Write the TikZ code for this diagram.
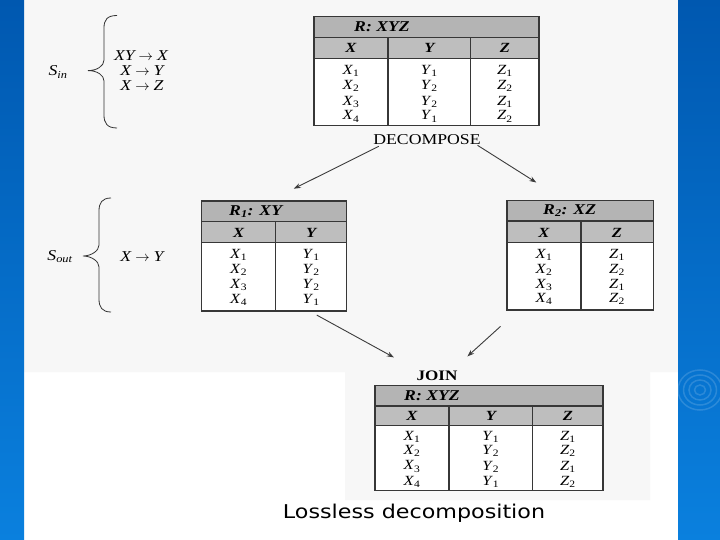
\documentclass[tikz,border=0pt]{standalone}
\usepackage{fontspec}
\setmainfont{Liberation Serif}[FakeStretch=1.18]
\newfontfamily\lsans{DejaVu Sans}[FakeStretch=1.17]
\usetikzlibrary{arrows.meta}
\definecolor{bartop}{RGB}{0,88,176}
\definecolor{barbot}{RGB}{10,128,222}
\definecolor{hdrgray}{RGB}{190,190,190}
\definecolor{ttlgray}{RGB}{180,180,180}
\definecolor{lnclr}{RGB}{55,55,55}
\definecolor{scan}{RGB}{247,247,247}
\definecolor{arrclr}{RGB}{60,60,60}
\newcommand\vv[2]{\textit{#1}\textsubscript{#2}}
\newcommand\fdto{\hspace{4pt}$\rightarrow$\hspace{4pt}}
\begin{document}
\begin{tikzpicture}[x=1pt,y=-1pt,
  tbl/.style={draw=lnclr,line width=1.1pt},
  cell/.style={font=\fontsize{14}{14}\selectfont,inner sep=0pt},
  hdr/.style={font=\fontsize{14}{14}\selectfont\bfseries\itshape,inner sep=0pt},
  ttl/.style={font=\fontsize{15}{15}\selectfont\bfseries\itshape,inner sep=0pt,anchor=west},
  fd/.style={font=\fontsize{15}{15}\selectfont\itshape,inner sep=0pt},
  lbl/.style={font=\fontsize{15}{15}\selectfont,inner sep=0pt},
  arr/.style={draw=arrclr,line width=0.9pt,-{Stealth[length=7pt,width=5pt]}},
  brc/.style={draw=black!80,line width=0.8pt}]
\useasboundingbox (0,0) rectangle (720,540);
\fill[white] (0,0) rectangle (720,540);
% scanned area
\fill[scan] (24,0) -- (678,0) -- (678,372) -- (650,372) -- (650,500) -- (345,500) -- (345,372) -- (24,372) -- cycle;
% blue bars
\shade[top color=bartop,bottom color=barbot] (0,0) rectangle (24,540);
\shade[top color=bartop,bottom color=barbot] (678,0) rectangle (720,540);
\begin{scope}
\clip (678,0) rectangle (720,540);
\foreach \r in {5,10,15,20}
  \draw[white,opacity=0.15,line width=1.5pt] (700,390) ellipse ({\r*1.1} and \r);
\end{scope}

% ---------- top table R: XYZ ----------
\fill[ttlgray] (314,16.5) rectangle (539,37.2);
\fill[hdrgray] (314,37.2) rectangle (539,58.5);
\fill[white] (314,58.5) rectangle (539,125.7);
\draw[tbl] (314,16.5) rectangle (539,125.7);
\draw[tbl] (314,37.2) -- (539,37.2);
\draw[tbl] (314,58.5) -- (539,58.5);
\draw[tbl] (388,37.2) -- (388,125.7);
\draw[tbl] (470.6,37.2) -- (470.6,125.7);
\node[ttl] (t0t) at (354,27) {R: XYZ};
\node[hdr] (t0hx) at (351,47.8) {X};
\node[hdr] (t0hy) at (429.3,47.8) {Y};
\node[hdr] (t0hz) at (504.8,47.8) {Z};
\foreach \n/\y in {1/70.6,2/86,3/101.6,4/116.4}
  \node[cell] (t0x\n) at (351,\y) {\vv{X}{\n}};
\foreach \n/\s/\y in {1/1/70.6,2/2/86,3/2/101.6,4/1/116.4}
  \node[cell] (t0y\n) at (429.3,\y) {\vv{Y}{\s}};
\foreach \n/\s/\y in {1/1/70.6,2/2/86,3/1/101.6,4/2/116.4}
  \node[cell] (t0z\n) at (504.8,\y) {\vv{Z}{\s}};

% ---------- S_in ----------
\node[fd] (sin) at (58,72) {S\textsubscript{in}};
\draw[brc] (117,15.5) .. controls (107,15.5) and (104,20) .. (104,28) -- (104,60)
  .. controls (104,66) and (97,70.6) .. (88,70.6)
  .. controls (97,70.6) and (104,75) .. (104,81) -- (104,115)
  .. controls (104,123) and (107,128) .. (117,128);
\node[fd] (fd1) at (141,56) {XY\fdto X};
\node[fd] (fd2) at (142,70.6) {X\fdto Y};
\node[fd] (fd3) at (142,85.4) {X\fdto Z};

% ---------- DECOMPOSE ----------
\node[lbl] (dec) at (427,139.5) {DECOMPOSE};
\coordinate (r1in) at (293.8,188.7);
\coordinate (r2in) at (536.3,182.5);
\coordinate (decl) at (378.8,146.3);
\coordinate (decr) at (477.5,145.3);
\draw[arr] (decl) -- (r1in);
\draw[arr] (decr) -- (r2in);

% ---------- R1: XY ----------
\fill[ttlgray] (201.5,201) rectangle (346.7,221.5);
\fill[hdrgray] (201.5,221.5) rectangle (346.7,242.7);
\fill[white] (201.5,242.7) rectangle (346.7,311);
\draw[tbl] (201.5,201) rectangle (346.7,311);
\draw[tbl] (201.5,221.5) -- (346.7,221.5);
\draw[tbl] (201.5,242.7) -- (346.7,242.7);
\draw[tbl] (275.7,221.5) -- (275.7,311);
\node[ttl] (t1t) at (229,211.5) {R\textsubscript{1}: XY};
\node[hdr] (t1hx) at (238.6,232.5) {X};
\node[hdr] (t1hy) at (311.2,232.5) {Y};
\foreach \n/\y in {1/255,2/270,3/285,4/299.5}
  \node[cell] (t1x\n) at (238.6,\y) {\vv{X}{\n}};
\foreach \n/\s/\y in {1/1/255,2/2/270,3/2/285,4/1/299.5}
  \node[cell] (t1y\n) at (311.2,\y) {\vv{Y}{\s}};

% ---------- S_out ----------
\node[fd] (sout) at (60,257) {S\textsubscript{out}};
\draw[brc] (111,198) .. controls (102,198) and (99,203) .. (99,211) -- (99,245)
  .. controls (99,251) and (91,256) .. (83,256)
  .. controls (91,256) and (99,261) .. (99,267) -- (99,299)
  .. controls (99,307) and (102,312) .. (111,312);
\node[fd] (fd4) at (142,256.5) {X\fdto Y};

% ---------- R2: XZ ----------
\fill[ttlgray] (507,200.5) rectangle (653.5,221);
\fill[hdrgray] (507,221) rectangle (653.5,242.7);
\fill[white] (507,242.7) rectangle (653.5,310);
\draw[tbl] (507,200.5) rectangle (653.5,310);
\draw[tbl] (507,221) -- (653.5,221);
\draw[tbl] (507,242.7) -- (653.5,242.7);
\draw[tbl] (581,221) -- (581,310);
\node[ttl] (t2t) at (543,211) {R\textsubscript{2}: XZ};
\node[hdr] (t2hx) at (544,232.5) {X};
\node[hdr] (t2hz) at (617,232.5) {Z};
\foreach \n/\y in {1/255,2/270,3/285,4/299}
  \node[cell] (t2x\n) at (544,\y) {\vv{X}{\n}};
\foreach \n/\s/\y in {1/1/255,2/2/270,3/1/285,4/2/299}
  \node[cell] (t2z\n) at (617,\y) {\vv{Z}{\s}};

% ---------- JOIN ----------
\coordinate (r1out) at (316.8,315.1);
\coordinate (r2out) at (500.5,326.4);
\coordinate (joinl) at (393.9,357.4);
\coordinate (joinr) at (467.4,356.4);
\draw[arr] (r1out) -- (joinl);
\draw[arr] (r2out) -- (joinr);
\node[lbl,font=\fontsize{14.5}{14.5}\selectfont\bfseries] (join) at (437,375.5) {JOIN};

% ---------- bottom table R: XYZ ----------
\fill[ttlgray] (375,385.7) rectangle (603,406);
\fill[hdrgray] (375,406) rectangle (603,425.3);
\fill[white] (375,425.3) rectangle (603,490.7);
\draw[tbl] (375,385.7) rectangle (603,490.7);
\draw[tbl] (375,406) -- (603,406);
\draw[tbl] (375,425.3) -- (603,425.3);
\draw[tbl] (449,406) -- (449,490.7);
\draw[tbl] (532.7,406) -- (532.7,490.7);
\node[ttl] (t3t) at (404,396) {R: XYZ};
\node[hdr] (t3hx) at (412,416) {X};
\node[hdr] (t3hy) at (490.8,416) {Y};
\node[hdr] (t3hz) at (567.8,416) {Z};
\foreach \n/\y in {1/437,2/451,3/466.5,4/481.5}
  \node[cell] (t3x\n) at (412,\y) {\vv{X}{\n}};
\foreach \n/\s/\y in {1/1/437,2/2/451,3/2/466.5,4/1/481.5}
  \node[cell] (t3y\n) at (490.8,\y) {\vv{Y}{\s}};
\foreach \n/\s/\y in {1/1/437,2/2/451,3/1/466.5,4/2/481.5}
  \node[cell] (t3z\n) at (567.8,\y) {\vv{Z}{\s}};

% ---------- caption ----------
\node[inner sep=0pt,font=\lsans\fontsize{19}{19}\selectfont] (cap) at (414,513) {Lossless decomposition};
\end{tikzpicture}
\end{document}
